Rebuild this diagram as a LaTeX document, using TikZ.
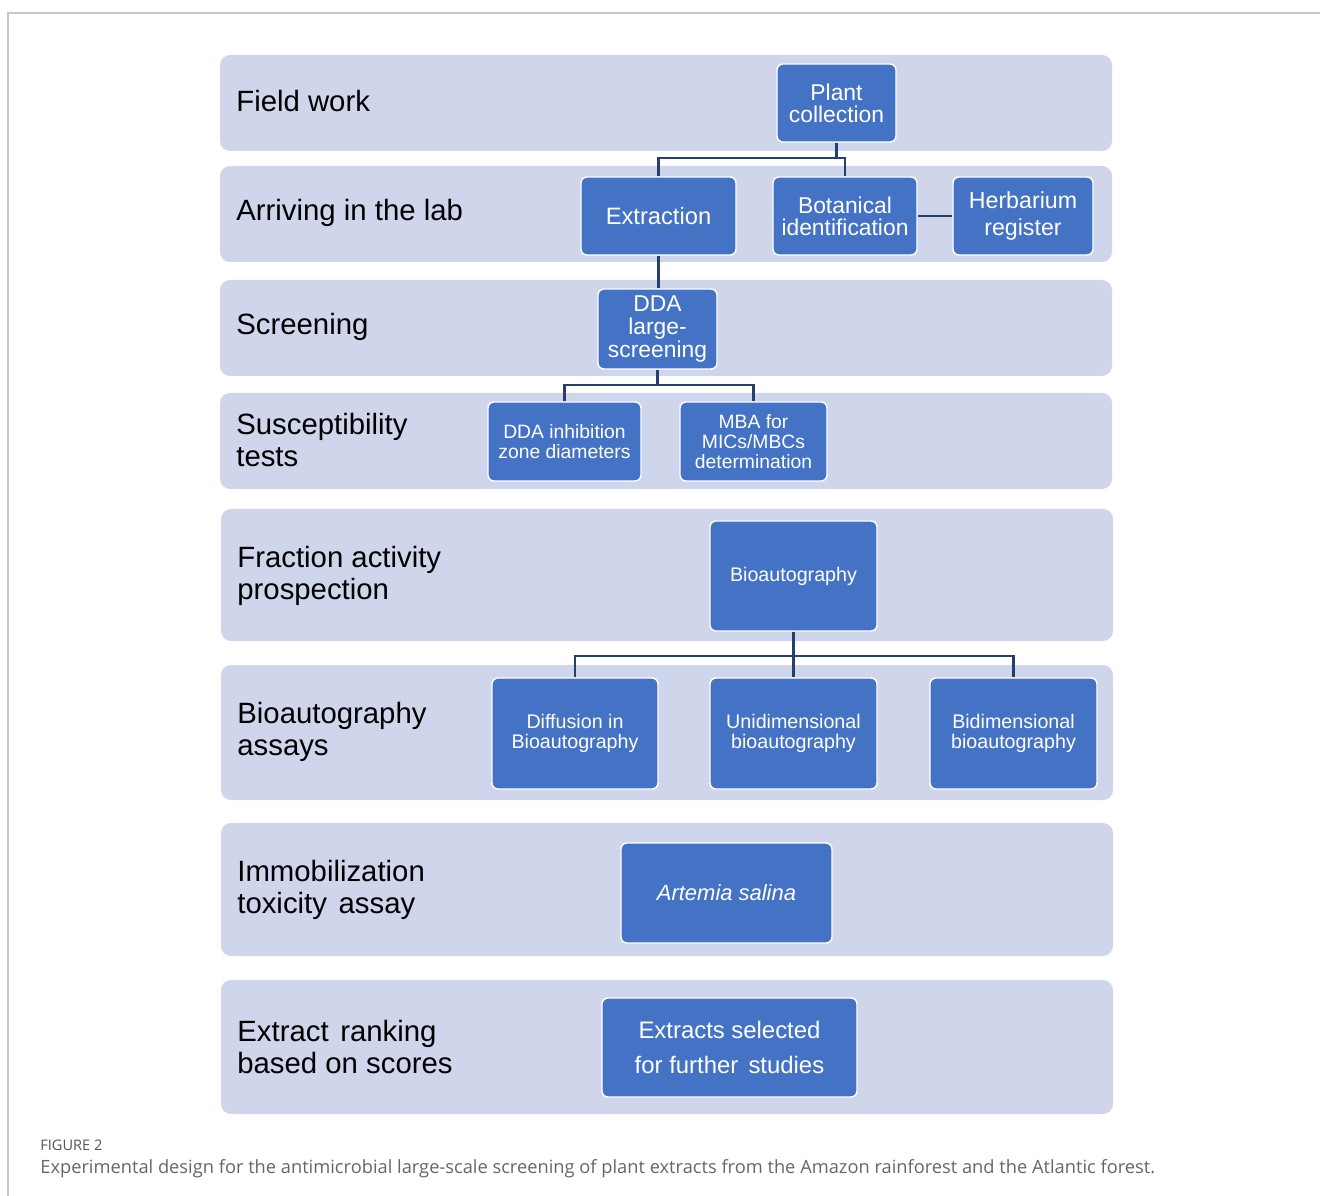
\documentclass[tikz,border=0pt]{standalone}
\usepackage{fontspec}
\setmainfont{Liberation Sans}
\newfontfamily\capfont{Open Sans}
\definecolor{bandc}{HTML}{CFD5EA}
\definecolor{boxc}{HTML}{4472C4}
\definecolor{connc}{HTML}{26406E}
\definecolor{framec}{HTML}{C8C8C8}
\definecolor{capgray}{HTML}{666666}
\definecolor{figgray}{HTML}{555555}
\newcommand\mkbox[7]{%
  \node[#6, minimum width={(#4-#2)*0.02cm}, minimum height={(#5-#3)*0.02cm}] (#1) at ({(#2+#4)/2},{(#3+#5)/2}) {#7};}
\tikzset{
  band/.style={fill=bandc, rounded corners=0.2cm, draw=none, inner sep=0pt},
  box/.style={fill=boxc, draw=white, line width=0.8pt, rounded corners=0.12cm, text=white, align=center, inner sep=0pt},
  conn/.style={draw=connc, line width=1.2pt},
  lab/.style={anchor=west, align=left, font=\fontsize{16.7}{18.5}\selectfont, inner sep=0pt},
  fA/.style={font=\fontsize{13}{12.5}\selectfont},
  fB/.style={font=\fontsize{11}{11.8}\selectfont},
  fC/.style={font=\fontsize{11.2}{11.6}\selectfont}
}
\begin{document}
\begin{tikzpicture}[x=0.02cm,y=-0.02cm]
\useasboundingbox (0,0) rectangle (1320,1196);
% frame
\draw[framec, line width=0.6pt] (8,1196) coordinate (fl) -- (8,13) coordinate (ftl) -- (1320,13) coordinate (ftr);
% bands
\mkbox{b1}{220}{55}{1112}{151}{band}{}
\mkbox{b2}{220}{166}{1112}{262}{band}{}
\mkbox{b3}{220}{280}{1112}{376}{band}{}
\mkbox{b4}{220}{393}{1112}{489}{band}{}
\mkbox{b5}{221}{509}{1113}{641}{band}{}
\mkbox{b6}{221}{665}{1113}{800}{band}{}
\mkbox{b7}{221}{823}{1113}{956}{band}{}
\mkbox{b8}{221}{980}{1113}{1114}{band}{}
% band labels
\node[lab] (l1) at (236,101) {Field work};
\node[lab] (l2) at (236,213) {Arriving in the lab};
\node[lab] (l3) at (236,327) {Screening};
\node[lab] (l4) at (236,440) {Susceptibility\\tests};
\node[lab] (l5) at (237,576) {Fraction activity\\prospection};
\node[lab] (l6) at (237,732) {Bioautography\\assays};
\node[lab] (l7) at (237,890) {Immobilization\\toxicity\hspace{0.12em} assay};
\node[lab] (l8) at (237,1047) {Extract\hspace{0.12em} ranking\\based on scores};
% boxes
\mkbox{plant}{777}{64}{896}{142}{box,fA}{Plant\\collection}
\mkbox{extr}{581}{177}{736}{255}{box,font=\fontsize{13.5}{14}\selectfont}{Extraction}
\mkbox{bot}{773}{177}{917}{255}{box,fA}{Botanical\\identification}
\mkbox{herb}{953}{177}{1093}{255}{box,font=\fontsize{13.2}{15}\selectfont}{Herbarium\\register}
\mkbox{dda}{598}{289}{717}{369}{box,font=\fontsize{13}{13}\selectfont}{DDA\\large-\\screening}
\mkbox{inh}{488}{402}{641}{481}{box,fB}{DDA inhibition\\zone diameters}
\mkbox{mba}{680}{402}{827}{481}{box,font=\fontsize{11}{11.5}\selectfont}{MBA for\\MICs/MBCs\\determination}
\mkbox{bio}{710}{521}{877}{631}{box,fC}{Bioautography}
\mkbox{dif}{492}{678}{658}{789}{box,fC}{Diffusion in\\Bioautography}
\mkbox{uni}{710}{678}{877}{789}{box,fC}{Unidimensional\\bioautography}
\mkbox{bid}{930}{678}{1097}{789}{box,fC}{Bidimensional\\bioautography}
\mkbox{art}{621}{843}{832}{943}{box,font=\fontsize{12.5}{13}\selectfont\itshape}{Artemia salina}
\mkbox{sel}{602}{998}{857}{1097}{box,font=\fontsize{13.6}{20.4}\selectfont}{Extracts selected\\for further\hspace{0.15em} studies}
% junction coordinates
\coordinate (j1) at (0,158);
\coordinate (j2) at (0,385);
\coordinate (j3) at (0,656);
% connectors
\draw[conn] (plant.south) -- (plant.south |- j1);
\draw[conn] (extr.north) |- (bot.north |- j1) -- (bot.north);
\draw[conn] (bot.east) -- (herb.west);
\draw[conn] (extr.south) -- (extr.south |- dda.north);
\draw[conn] (dda.south) -- (dda.south |- j2);
\draw[conn] (inh.north) |- (mba.north |- j2) -- (mba.north);
\draw[conn] (bio.south) -- (uni.north);
\draw[conn] (dif.north) |- (bid.north |- j3) -- (bid.north);
% caption
\node[anchor=base west, inner sep=0pt, text=figgray, font=\capfont\fontsize{8.3}{9}\selectfont] (fig) at (40,1150) {FIGURE 2};
\node[anchor=base west, inner sep=0pt, text=capgray, font=\capfont\fontsize{10.4}{12}\selectfont] (cap) at (40,1173) {Experimental design for the antimicrobial large-scale screening of plant extracts from the Amazon rainforest and the Atlantic forest.};
\end{tikzpicture}
\end{document}
